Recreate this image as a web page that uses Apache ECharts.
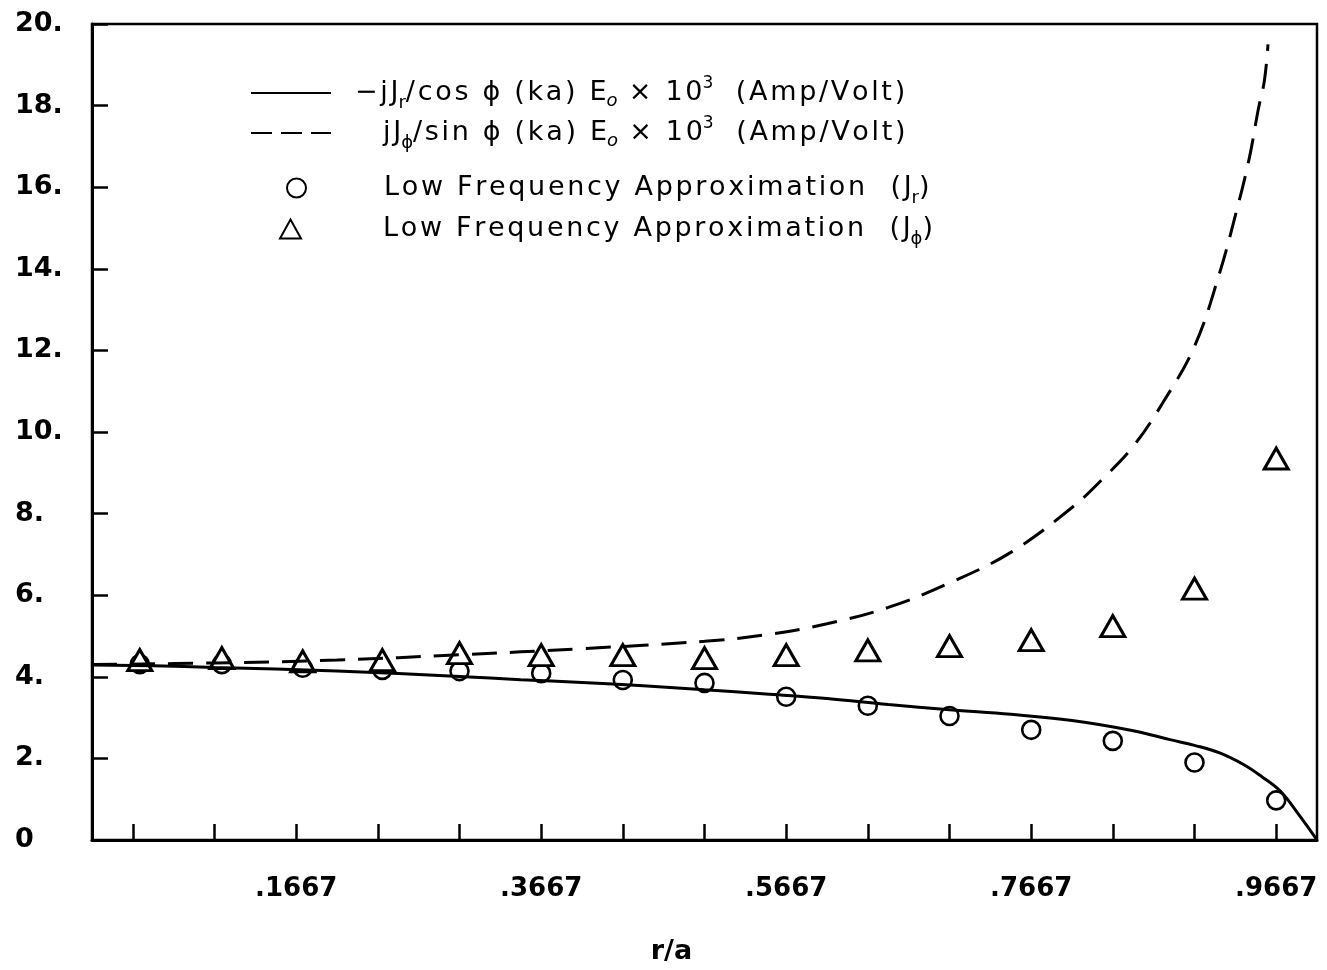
<!DOCTYPE html>
<html>
<head>
<meta charset="utf-8">
<script src="https://cdn.jsdelivr.net/npm/echarts@6/dist/echarts.min.js"></script>
<style>
html,body{margin:0;padding:0;background:#fff;}
#chart{width:1327px;height:970px;}
</style>
</head>
<body>
<div id="chart"></div>
<script>
// ---- data ----
const xTickValues = [0.0333, 0.1, 0.1667, 0.2333, 0.3, 0.3667, 0.4333, 0.5, 0.5667, 0.6333, 0.7, 0.7667, 0.8333, 0.9, 0.9667];
const xLabelValues = [0.1667, 0.3667, 0.5667, 0.7667, 0.9667];

const solidX = [0, 0.05, 0.1, 0.15, 0.2, 0.25, 0.3, 0.35, 0.4, 0.45, 0.5, 0.55, 0.6, 0.65, 0.7, 0.75, 0.8, 0.85, 0.88, 0.9, 0.92, 0.94, 0.955, 0.97, 0.985, 1.0];
const solidY = [4.29, 4.27, 4.23, 4.19, 4.14, 4.08, 4.01, 3.93, 3.86, 3.78, 3.68, 3.58, 3.47, 3.32, 3.19, 3.08, 2.93, 2.68, 2.46, 2.32, 2.14, 1.85, 1.55, 1.2, 0.63, 0];

const dashX = [0, 0.1, 0.2, 0.3, 0.4, 0.5, 0.55, 0.6, 0.65, 0.7, 0.75, 0.8, 0.825, 0.85, 0.875, 0.9, 0.92, 0.935, 0.945, 0.952, 0.957, 0.96];
const dashY = [4.30, 4.34, 4.41, 4.54, 4.69, 4.87, 5.03, 5.30, 5.70, 6.30, 7.05, 8.15, 8.85, 9.65, 10.76, 12.1, 13.85, 15.5, 16.75, 17.9, 18.6, 19.5];

const markX = [0.039, 0.106, 0.172, 0.237, 0.3, 0.3667, 0.4333, 0.5, 0.5667, 0.6333, 0.7, 0.7667, 0.8333, 0.9, 0.9667];
const circleY = [4.31, 4.31, 4.22, 4.17, 4.14, 4.09, 3.92, 3.85, 3.51, 3.29, 3.04, 2.70, 2.43, 1.90, 0.97];
const triY = [4.41, 4.46, 4.38, 4.41, 4.58, 4.53, 4.53, 4.46, 4.53, 4.65, 4.75, 4.90, 5.24, 6.16, 9.35];

// letter-spaced text, to mimic the wide lettering of the original
const HS = '\u200A';
const sp = s => s.split('').join(HS);
const legendTexts = {
  Jr: '{g1| }{a|' + sp('−jJ') + '}{sub|r}{a|' + sp('/cos ϕ (ka) E') + '}{subi|o}{a|' + sp(' × 10') + '}{sup|3}{a|' + sp('  (Amp/Volt)') + '}',
  Jphi: '{g2| }{a|' + sp('jJ') + '}{sub|ϕ}{a|' + sp('/sin ϕ (ka) E') + '}{subi|o}{a|' + sp(' × 10') + '}{sup|3}{a|' + sp('  (Amp/Volt)') + '}',
  LFJr: '{g3| }{a|' + sp('Low Frequency Approximation  (J') + '}{sub|r}{a|)}',
  LFJphi: '{g4| }{a|' + sp('Low Frequency Approximation  (J') + '}{sub|ϕ}{a|)}'
};

const zip = (xs, ys) => xs.map((x, i) => [x, ys[i]]);
const FONT = 'DejaVu Sans';

const rich = {
  a: {fontFamily: FONT, fontSize: 27, color: '#000', lineHeight: 30},
  sub: {fontFamily: FONT, fontSize: 18, color: '#000', lineHeight: 18, padding: [20, 0, 0, 0]},
  subi: {fontFamily: FONT, fontSize: 18, fontStyle: 'italic', color: '#000', lineHeight: 18, padding: [16, 0, 0, 0]},
  sup: {fontFamily: FONT, fontSize: 17, color: '#000', lineHeight: 18, padding: [0, 0, 18, 0]},
  g1: {width: 19, fontSize: 10},
  g2: {width: 47, fontSize: 10},
  g3: {width: 73, fontSize: 10},
  g4: {width: 77, fontSize: 10}
};

const hiddenDot = {color: 'rgba(0,0,0,0)', borderColor: 'rgba(0,0,0,0)', borderWidth: 0};
const legendBase = {orient: 'vertical', padding: 0, selectedMode: false,
  formatter: n => legendTexts[n], textStyle: {rich: rich}};

const chart = echarts.init(document.getElementById('chart'), null, {renderer: 'canvas'});
chart.setOption({
  animation: false,
  backgroundColor: '#fff',
  grid: {left: 92, right: 10, top: 24, bottom: 127, show: true, borderColor: '#000', borderWidth: 2.5, containLabel: false},
  legend: [
    Object.assign({}, legendBase, {data: ['Jr'], left: 250, top: 74, itemWidth: 80, itemHeight: 14, itemStyle: hiddenDot}),
    Object.assign({}, legendBase, {data: ['Jphi'], left: 250, top: 114, itemWidth: 80, itemHeight: 14, itemStyle: hiddenDot,
      lineStyle: {type: [21, 9]}}),
    Object.assign({}, legendBase, {data: ['LFJr'], left: 286, top: 169, itemWidth: 19, itemHeight: 19}),
    Object.assign({}, legendBase, {data: ['LFJphi'], left: 279, top: 210, itemWidth: 21, itemHeight: 19})
  ],
  xAxis: {
    type: 'value', min: 0, max: 1,
    name: 'r/a', nameLocation: 'middle', nameGap: 98,
    nameTextStyle: {fontFamily: FONT, fontSize: 27, fontWeight: 'bold', color: '#000', padding: [0, 66, 0, 0]},
    axisLine: {show: true, onZero: false, lineStyle: {color: '#000', width: 3}},
    axisTick: {show: true, inside: true, length: 16, customValues: xTickValues, lineStyle: {color: '#000', width: 2.5}},
    axisLabel: {show: true, customValues: xLabelValues, margin: 36, fontFamily: FONT, fontSize: 26, fontWeight: 'bold', color: '#000',
      formatter: v => v.toFixed(4).replace(/^0/, '')},
    splitLine: {show: false}
  },
  yAxis: {
    type: 'value', min: 0, max: 20, interval: 2,
    axisLine: {show: true, onZero: false, lineStyle: {color: '#000', width: 3}},
    axisTick: {show: true, inside: true, length: 16, lineStyle: {color: '#000', width: 2.5}},
    axisLabel: {show: true, align: 'left', margin: 77, fontFamily: FONT, fontSize: 27, fontWeight: 'bold', color: '#000',
      formatter: v => v === 0 ? '0' : v + '.'},
    splitLine: {show: false}
  },
  series: [
    {
      name: 'Jr', type: 'line', data: zip(solidX, solidY), symbol: 'none',
      smooth: 0.4, clip: true,
      lineStyle: {color: '#000', width: 3}, itemStyle: {color: '#000'}
    },
    {
      name: 'Jphi', type: 'line', data: zip(dashX, dashY), symbol: 'none',
      smooth: 0.4, clip: true,
      lineStyle: {color: '#000', width: 3, type: [25, 13]}, itemStyle: {color: '#000'}
    },
    {
      name: 'LFJr', type: 'scatter', data: zip(markX, circleY), symbol: 'circle', symbolSize: 18,
      itemStyle: {color: '#fff', borderColor: '#000', borderWidth: 2.6, opacity: 1}
    },
    {
      name: 'LFJphi', type: 'scatter', data: zip(markX, triY), symbol: 'triangle', symbolSize: [24, 21],
      itemStyle: {color: '#fff', borderColor: '#000', borderWidth: 3, opacity: 1}
    }
  ]
});
</script>
</body>
</html>
